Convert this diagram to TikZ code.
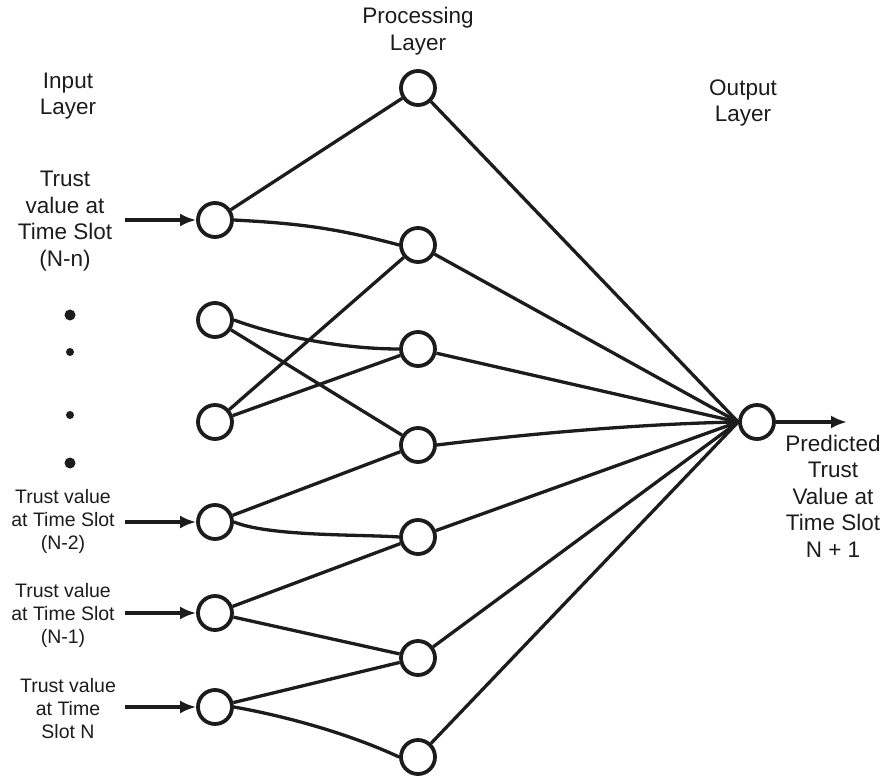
\documentclass[tikz,border=0pt]{standalone}
\usepackage{fontspec}
\setmainfont{Liberation Sans}
\usetikzlibrary{arrows.meta}
\definecolor{NetInk}{HTML}{1C1C1C}

\begin{document}
\begin{tikzpicture}[x=1pt,y=-1pt,>={Latex[length=16pt,width=13pt]},
  neuron/.style={circle,draw=NetInk,line width=3.8pt,fill=white,minimum size=34pt,inner sep=0pt},
  link/.style={NetInk,line width=3.3pt},
  bigtext/.style={font=\fontsize{22.5}{26.5}\selectfont,align=center,text=NetInk},
  smalltext/.style={font=\fontsize{19.5}{23}\selectfont,align=center,text=NetInk}]
  \useasboundingbox (0,0) rectangle (886,781);
  % layer titles
  \node[bigtext] (inTitle) at (68,96) {Input\\Layer};
  \node[bigtext] (prTitle) at (418,31) {Processing\\Layer};
  \node[bigtext] (outTitle) at (743,103) {Output\\Layer};
  % neurons
  \foreach \name/\y in {in1/220,in2/320,in3/422,in4/522,in5/613,in6/707}{%
    \node[neuron] (\name) at (215,\y) {};
  }
  \foreach \name/\y in {pr1/88,pr2/245,pr3/349,pr4/445,pr5/537,pr6/658,pr7/757}{%
    \node[neuron] (\name) at (418,\y) {};
  }
  \node[neuron] (out) at (757,422) {};
  % input labels
  \node[bigtext] (lab1) at (65,221) {Trust\\value at\\Time Slot\\(N-n)};
  \node[smalltext] (lab4) at (63,521) {Trust value\\at Time Slot\\(N-2)};
  \node[smalltext] (lab5) at (63,615) {Trust value\\at Time Slot\\(N-1)};
  \node[smalltext] (lab6) at (68,709) {Trust value\\at Time\\Slot N};
  \node[bigtext] (labOut) at (833,496) {Predicted\\Trust\\Value at\\Time Slot\\N + 1};
  \foreach \y in {315,463} \fill[NetInk] (70,\y) circle (5.5);
  \foreach \y in {352,415} \fill[NetInk] (70,\y) circle (4);
  % input arrows
  \foreach \name/\y in {in1/220,in4/522,in5/613,in6/707}{%
    \coordinate (\name-src) at (125,\y);
    \draw[link,->] (\name-src) -- (\name.west);
  }
  % input -> processing
  \draw[link] (in1) -- (pr1);
  \draw[link] (in1.east) to[out=-3,in=165] (pr2.west);
  \draw[link] (in2.east) to[out=-20,in=180,looseness=0.8] (pr3.west);
  \draw[link] (in2) -- (pr4);
  \draw[link] (in3) -- (pr2);
  \draw[link] (in3) -- (pr3);
  \draw[link] (in4) -- (pr4);
  \draw[link] (in4.east) to[out=-22,in=176,looseness=0.6] (pr5.west);
  \draw[link] (in5) -- (pr5);
  \draw[link] (in5) -- (pr6);
  \draw[link] (in6) -- (pr6);
  \draw[link] (in6.east) to[out=-10,in=155,looseness=0.8] (pr7.west);
  % processing -> output
  \foreach \name in {pr1,pr2,pr3,pr5,pr6,pr7}{%
    \draw[link] (\name) -- (out.west);
  }
  \draw[link] (pr4.east) to[out=7,in=181,looseness=0.8] (out.west);
  \coordinate (outTip) at (847,422);
  \draw[link,->] (out.east) -- (outTip);
\end{tikzpicture}
\end{document}
